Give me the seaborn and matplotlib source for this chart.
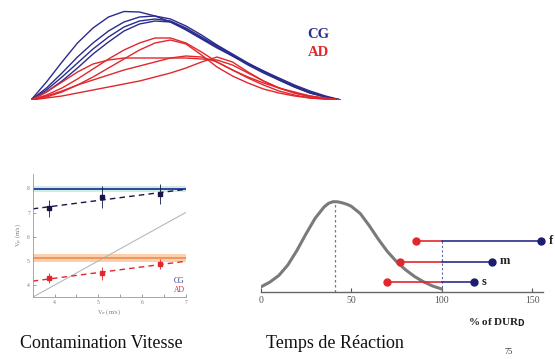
import matplotlib
matplotlib.use("Agg")
import matplotlib.pyplot as plt
import seaborn as sns
import pandas as pd

NAVY = "#2b2b8c"
RED = "#e0282c"
GREY = "#7a7a7a"

# top panel: velocity profiles, time in % of movement, amplitude in arbitrary units
profile_time = [0, 5, 10, 15, 20, 25, 30, 35, 40, 45, 50,
                55, 60, 65, 70, 75, 80, 85, 90, 95, 100]
cg_profiles = [
    [0, 18, 38, 57, 72, 83, 88.5, 88, 84, 78, 70, 61, 52, 44, 36, 29, 22, 15, 9, 4, 0],
    [0, 12, 27, 43, 57, 69, 78, 83, 84, 81, 74, 65, 55, 46, 37, 29, 21, 14, 8, 3, 0],
    [0, 10, 23, 37, 51, 63, 73, 79, 81, 79, 72, 63, 54, 45, 36, 28, 20, 13, 7, 3, 0],
    [0, 8, 19, 32, 46, 58, 69, 76, 79, 78, 71, 62, 53, 44, 35, 27, 20, 13, 7, 3, 0],
]
ad_profiles = [
    [0, 5, 12, 21, 31, 41, 50, 57, 62, 62, 57, 48, 38, 30, 23, 17, 12, 8, 4, 2, 0],
    [0, 3, 8, 15, 23, 32, 41, 50, 57, 60, 56, 45, 33, 24, 17, 11, 7, 4, 2, 1, 0],
    [0, 8, 18, 28, 36, 40, 42, 42, 42, 42, 42, 41, 40, 35, 27, 19, 12, 7, 3, 1, 0],
    [0, 2, 4, 7, 10, 13, 16, 19, 23, 27, 32, 38, 43, 38, 28, 19, 12, 7, 4, 1.5, 0],
    [0, 4, 9, 15, 20, 25, 30, 34, 38, 42, 44, 43, 38, 30, 22, 15, 9, 5, 2, 1, 0],
]

# bottom left: speed contamination
target_speed = [3.88, 5.09, 6.41]
cg_speed = [7.17, 7.65, 7.76]
cg_speed_err = [0.35, 0.45, 0.40]
ad_speed = [4.28, 4.49, 4.87]
ad_speed_err = [0.20, 0.27, 0.20]
cg_ref = 7.96
cg_ref_band = (7.85, 8.10)
ad_ref = 5.10
ad_ref_band = (4.96, 5.28)

# bottom right: reaction time distribution (% of DUR_D)
rt_x = [0, 5, 10, 15, 20, 25, 30, 35, 37.5, 40, 42.5, 45, 47.5, 50, 55,
        60, 65, 70, 75, 80, 85, 90, 95, 100]
rt_density = [5, 9.8, 16.5, 27, 41.5, 58, 73.5, 85, 88.7, 90.3, 90.2, 89.2,
              87.8, 85.8, 78.5, 66.3, 52.8, 40.5, 30.5, 22.3, 15.5, 10.2, 6, 3]
rt_mode = 41
speed_labels = ["s", "m", "f"]
ad_rt = [70, 77, 86]
cg_rt = [118, 128, 155]
speed_level = [10, 30.5, 51]

sns.set_theme(style="white")
plt.rcParams["font.family"] = ["Liberation Serif", "DejaVu Serif"]

fig = plt.figure(figsize=(5.55, 3.59), dpi=100)
W, H = 555, 359


def add_axes(x0, y_top, x1, y_bot):
    return fig.add_axes([x0 / W, 1 - y_bot / H, (x1 - x0) / W, (y_bot - y_top) / H])


# --- top: profiles ---
rows = []
for grp, profiles in (("CG", cg_profiles), ("AD", ad_profiles)):
    for i, prof in enumerate(profiles):
        for t, v in zip(profile_time, prof):
            rows.append((grp, f"{grp}{i}", t, v))
profiles_df = pd.DataFrame(rows, columns=["group", "trial", "t", "v"])

ax_top = add_axes(31, 10, 341, 100)
sns.lineplot(data=profiles_df, x="t", y="v", hue="group", units="trial",
             estimator=None, palette={"CG": NAVY, "AD": RED}, linewidth=1.0,
             legend=False, ax=ax_top)
ax_top.set_xlim(0, 100)
ax_top.set_ylim(0, 90)
ax_top.axis("off")
fig.text(318 / W, 1 - 35 / H, "CG", color=NAVY, fontsize=10.5, fontweight="bold",
         ha="center", va="center")
fig.text(318 / W, 1 - 53 / H, "AD", color=RED, fontsize=10.5, fontweight="bold",
         ha="center", va="center")

# --- bottom left: contamination ---
ax_bl = add_axes(32.7, 173.8, 185.7, 297.2)
ax_bl.set_xlim(3.5, 7.0)
ax_bl.set_ylim(3.5, 8.6)
ax_bl.plot([3.5, 7.0], [3.5, 7.0], color="#b8b8b8", linewidth=0.8)
ax_bl.axhspan(*cg_ref_band, color="#cfeee2", linewidth=0)
ax_bl.axhline(cg_ref, color="#2f44a4", linewidth=1.4)
ax_bl.axhspan(*ad_ref_band, color="#fbd0ae", linewidth=0)
ax_bl.axhline(ad_ref, color="#f2955a", linewidth=1.4)

for vals, err, col in ((cg_speed, cg_speed_err, "#15154a"),
                       (ad_speed, ad_speed_err, RED)):
    sns.regplot(x=target_speed, y=vals, ci=None, truncate=False, ax=ax_bl,
                scatter=False, line_kws={"color": col, "linestyle": "--",
                                         "linewidth": 1.0, "dashes": (4, 3)})
    ax_bl.errorbar(target_speed, vals, yerr=err, fmt="s", color=col,
                   markersize=3, elinewidth=0.6, capsize=0)

ax_bl.set_xticks([4, 5, 6, 7])
ax_bl.set_xticks([3.5, 4.5, 5.5, 6.5], minor=True)
ax_bl.set_yticks([4, 5, 6, 7, 8])
ax_bl.tick_params(axis="both", which="both", direction="in", length=2,
                  width=0.5, labelsize=4, colors="#777777", pad=2)
ax_bl.tick_params(which="both", bottom=True, left=True)
for s in ("top", "right"):
    ax_bl.spines[s].set_visible(False)
for s in ("left", "bottom"):
    ax_bl.spines[s].set_color("#999999")
    ax_bl.spines[s].set_linewidth(0.6)
ax_bl.set_xlabel("V$_e$ (m/s)", fontsize=4.5, color="#777777", labelpad=2)
ax_bl.set_ylabel("V$_p$ (m/s)", fontsize=4.5, color="#777777", labelpad=2)
ax_bl.text(6.85, 4.15, "CG", color=NAVY, fontsize=5.5, ha="center", va="center")
ax_bl.text(6.85, 3.8, "AD", color=RED, fontsize=5.5, ha="center", va="center")

# --- bottom right: reaction time ---
ax_br = add_axes(260.7, 197, 543, 292)
ax_br.set_xlim(0, 156)
ax_br.set_ylim(0, 95)
sns.lineplot(x=rt_x, y=rt_density, color=GREY, linewidth=2.2, ax=ax_br,
             sort=False)
ax_br.plot([rt_mode, rt_mode], [0, 90.3], color=GREY, linestyle=(0, (2, 2)),
           linewidth=0.9)
ax_br.plot([100, 100], [0, speed_level[-1]], color="#5a6aa0",
           linestyle=(0, (2, 2)), linewidth=0.8)
for lab, a, c, lev in zip(speed_labels, ad_rt, cg_rt, speed_level):
    ax_br.plot([a, 100], [lev, lev], color=RED, linewidth=1.2)
    ax_br.plot([100, c], [lev, lev], color=NAVY, linewidth=1.2)
    ax_br.plot([a], [lev], "o", color=RED, markersize=5, clip_on=False)
    ax_br.plot([c], [lev], "o", color="#1c1c70", markersize=5, clip_on=False)
    ax_br.text(c + 4, lev, lab, color="#222222", fontsize=9, fontweight="bold",
               ha="left", va="center")

ax_br.set_xticks([0, 50, 100, 150])
ax_br.set_yticks([])
ax_br.tick_params(axis="x", direction="in", length=3, width=0.8,
                  labelsize=7, colors="#555555", pad=3, bottom=True)
for s in ("top", "right", "left"):
    ax_br.spines[s].set_visible(False)
ax_br.spines["bottom"].set_color("#666666")
ax_br.spines["bottom"].set_linewidth(1.0)
fig.text(497 / W, 1 - 323 / H, "% of DUR$_\\mathbf{D}$", fontsize=8,
         fontweight="bold", color="#222222", ha="center", va="center")

# captions
fig.text(101 / W, 1 - 343 / H, "Contamination Vitesse", fontsize=13,
         color="#111111", ha="center", va="center")
fig.text(335 / W, 1 - 343 / H, "Temps de Réaction", fontsize=13,
         color="#111111", ha="center", va="center")
fig.text(509 / W, 1 - 352 / H, "75", fontsize=6, color="#333333",
         ha="center", va="center")

fig.savefig("out.png", dpi=100)
